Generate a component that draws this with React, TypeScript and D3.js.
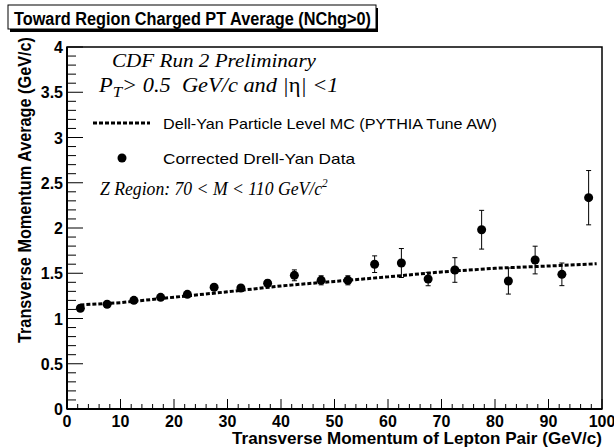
import React from "react";
import * as d3 from "d3";

const dataX = [2.5, 7.5, 12.5, 17.5, 22.5, 27.5, 32.5, 37.5, 42.5, 47.5, 52.5, 57.5, 62.5, 67.5, 72.5, 77.5, 82.5, 87.5, 92.5, 97.5];
const dataY = [1.113, 1.157, 1.201, 1.234, 1.267, 1.345, 1.337, 1.389, 1.477, 1.422, 1.422, 1.6, 1.613, 1.436, 1.536, 1.981, 1.414, 1.646, 1.488, 2.335];
const dataErr = [0.02, 0.02, 0.02, 0.025, 0.025, 0.03, 0.03, 0.035, 0.06, 0.05, 0.05, 0.092, 0.16, 0.074, 0.136, 0.214, 0.144, 0.153, 0.125, 0.3];

const mcX = [2.5, 10, 20, 30, 40, 50, 60, 70, 80, 90, 99];
const mcY = [1.15, 1.175, 1.235, 1.295, 1.36, 1.41, 1.46, 1.515, 1.555, 1.58, 1.605];

const xTicks = [0, 10, 20, 30, 40, 50, 60, 70, 80, 90, 100];
const yTicks = [0, 0.5, 1, 1.5, 2, 2.5, 3, 3.5, 4];
const yTickLabels = ["0", "0.5", "1", "1.5", "2", "2.5", "3", "3.5", "4"];

const L = 67, R = 602, T = 47, B = 409;

export default function App() {
  const x = d3.scaleLinear().domain([0, 100]).range([L, R]);
  const y = d3.scaleLinear().domain([0, 4]).range([B, T]);
  const line = d3.line<number>().x((_, i) => x(mcX[i])).y((d) => y(d));
  const xMinor = d3.range(0, 100.001, 2);
  const yMinor = d3.range(0, 4.0001, 0.1);
  const sans = "Arial, 'Liberation Sans', Helvetica, sans-serif";
  const serif = "'Times New Roman', 'Liberation Serif', serif";
  return (
    <svg width={614} height={448} style={{ position: "absolute", left: 0, top: 0, background: "#fff" }}>
      {/* title box */}
      <rect x={10} y={8} width={368} height={24} fill="#000" />
      <rect x={8} y={5} width={368} height={24} fill="#fff" stroke="#000" strokeWidth={1} />
      <text x={14} y={25} fontFamily={sans} fontWeight="bold" fontSize={18} textLength={357} lengthAdjust="spacingAndGlyphs">Toward Region Charged PT Average (NChg&gt;0)</text>

      {/* frame */}
      <rect x={L} y={T} width={R - L} height={B - T} fill="none" stroke="#000" strokeWidth={1.5} />
      <line x1={L} x2={R} y1={B} y2={B} stroke="#000" strokeWidth={2} />
      <line x1={L} x2={L} y1={T} y2={B} stroke="#000" strokeWidth={2} />

      {/* y ticks */}
      {yMinor.map((v, i) => (
        <line key={"ym" + i} x1={L} x2={L + (i % 5 === 0 ? 16 : 9)} y1={y(v)} y2={y(v)} stroke="#000" strokeWidth={1} />
      ))}
      {yTicks.map((v, i) => (
        <text key={"yt" + i} x={L - 4} y={y(v) + 6} textAnchor="end" fontFamily={sans} fontWeight="bold" fontSize={16}>{yTickLabels[i]}</text>
      ))}
      {/* x ticks */}
      {xMinor.map((v, i) => (
        <line key={"xm" + i} x1={x(v)} x2={x(v)} y1={B} y2={B - (i % 5 === 0 ? 10 : 5)} stroke="#000" strokeWidth={1} />
      ))}
      {xTicks.map((v, i) => (
        <text key={"xt" + i} x={x(v)} y={427} textAnchor="middle" fontFamily={sans} fontWeight="bold" fontSize={16}>{String(v)}</text>
      ))}

      {/* axis labels */}
      <text x={602} y={444} textAnchor="end" fontFamily={sans} fontWeight="bold" fontSize={17} textLength={370} lengthAdjust="spacingAndGlyphs">Transverse Momentum of Lepton Pair (GeV/c)</text>
      <text transform="translate(31,190) rotate(-90)" textAnchor="middle" fontFamily={sans} fontWeight="bold" fontSize={18} textLength={306} lengthAdjust="spacingAndGlyphs">Transverse Momentum Average (GeV/c)</text>

      {/* MC line */}
      <path d={line(mcY) || ""} fill="none" stroke="#000" strokeWidth={3} strokeDasharray="4,2" />

      {/* data */}
      {dataX.map((v, i) => (
        <g key={"d" + i}>
          <line x1={x(v)} x2={x(v)} y1={y(dataY[i] - dataErr[i])} y2={y(dataY[i] + dataErr[i])} stroke="#000" strokeWidth={1} />
          <line x1={x(v) - 2.5} x2={x(v) + 2.5} y1={y(dataY[i] - dataErr[i])} y2={y(dataY[i] - dataErr[i])} stroke="#000" strokeWidth={1} />
          <line x1={x(v) - 2.5} x2={x(v) + 2.5} y1={y(dataY[i] + dataErr[i])} y2={y(dataY[i] + dataErr[i])} stroke="#000" strokeWidth={1} />
          <circle cx={x(v)} cy={y(dataY[i])} r={4.5} fill="#000" />
        </g>
      ))}

      {/* annotations */}
      <text x={112} y={67} fontFamily={serif} fontStyle="italic" fontSize={19} textLength={204} lengthAdjust="spacingAndGlyphs">CDF Run 2 Preliminary</text>
      <g transform="translate(99,92) scale(1.12,1)">
        <text x={0} y={0} fontFamily={serif} fontStyle="italic" fontSize={20} style={{ whiteSpace: "pre" }}>
          P<tspan dy={5} fontSize={15}>T</tspan><tspan dy={-5}>{"> 0.5  GeV/c and |"}</tspan><tspan fontStyle="normal">η</tspan><tspan>{"| <1"}</tspan>
        </text>
      </g>
      <line x1={93} x2={150} y1={123} y2={123} stroke="#000" strokeWidth={3} strokeDasharray="4,2" />
      <text x={163} y={129} fontFamily={sans} fontSize={15} textLength={334} lengthAdjust="spacingAndGlyphs">Dell-Yan Particle Level MC (PYTHIA Tune AW)</text>
      <circle cx={122} cy={158} r={4.5} fill="#000" />
      <text x={163} y={164} fontFamily={sans} fontSize={15} textLength={192} lengthAdjust="spacingAndGlyphs">Corrected Drell-Yan Data</text>
      <g transform="translate(100,195) scale(0.93,1)">
        <text x={0} y={0} fontFamily={serif} fontStyle="italic" fontSize={19} style={{ whiteSpace: "pre" }}>
          {"Z Region: 70 < M < 110 GeV/c"}<tspan dy={-8} fontSize={12}>2</tspan>
        </text>
      </g>
    </svg>
  );
}
